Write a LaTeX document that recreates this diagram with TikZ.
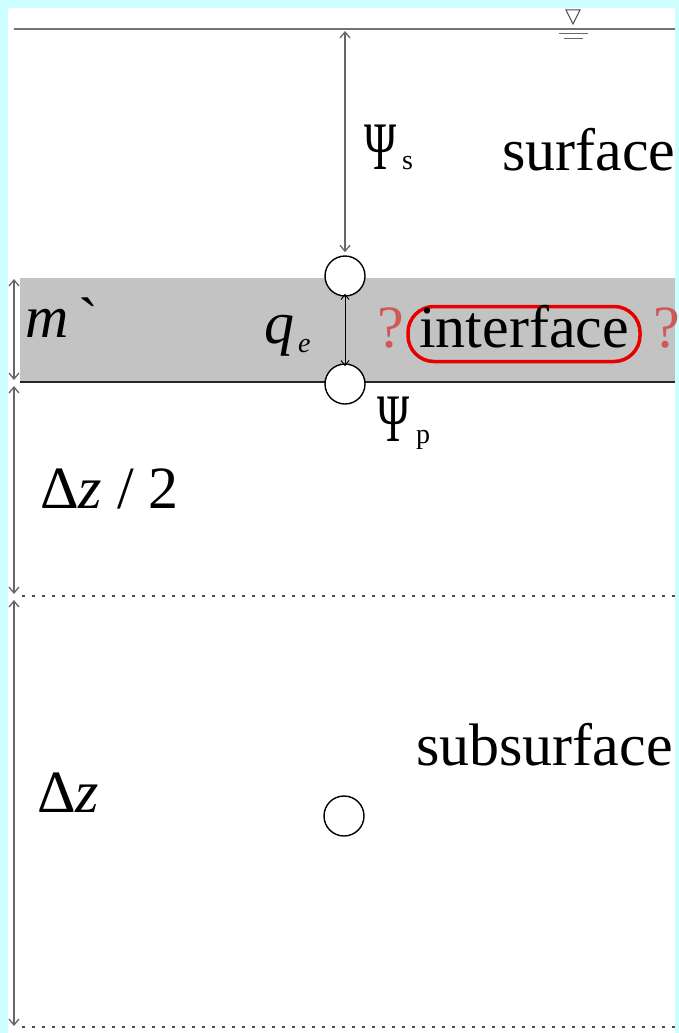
\documentclass[tikz,border=0pt]{standalone}
\usepackage{fontspec}
\setmainfont{Liberation Serif}
\usetikzlibrary{arrows.meta}
\definecolor{bgcyan}{HTML}{CCFFFF}
\definecolor{bandgray}{HTML}{C3C3C3}
\definecolor{qred}{HTML}{D05858}
\definecolor{ovalred}{HTML}{E80000}
\begin{document}
\begin{tikzpicture}[x=1pt,y=-1pt,
  big/.style={font=\fontsize{60}{66}\selectfont, inner sep=0pt},
  psi/.style={font=\fontsize{68}{70}\selectfont, inner sep=0pt},
  small/.style={font=\fontsize{28}{30}\selectfont, inner sep=0pt},
  dimarrow/.style={draw=gray!80!black, line width=1.3pt, {Straight Barb[length=6pt,width=10pt]}-{Straight Barb[length=6pt,width=10pt]}},
  qarrow/.style={draw=black, line width=1pt, {Straight Barb[length=5pt,width=8pt]}-{Straight Barb[length=5pt,width=8pt]}},
  nodecircle/.style={circle, draw=black, line width=1.4pt, fill=white, minimum size=40pt, inner sep=0pt},
  dotline/.style={draw=black!70, line width=2pt, dash pattern=on 3pt off 7pt},
  qmark/.style={big, text=qred}]
\useasboundingbox (0,0) rectangle (679,1033);
\fill[bgcyan] (0,0) rectangle (679,1033);
\fill[white] (8,8) rectangle (675,1033);
% gray band
\fill[bandgray] (20,278) rectangle (675,382);
% top water line
\draw[gray!90!black, line width=1.8pt] (14,29) -- (675,29);
% water table symbol
\draw[black!70, line width=1pt] (566,10) -- (580,10) -- (573,24) -- cycle;
\draw[black!60, line width=1pt] (559,34) -- (588,34);
\draw[black!60, line width=1pt] (564,39) -- (583,39);
% band bottom line
\draw[black!85, line width=1.8pt] (20,382) -- (675,382);
% dotted lines
\draw[dotline] (22,596) -- (675,596);
\draw[dotline] (22,1027) -- (675,1027);
% circles
\node[nodecircle] (c1) at (345,276) {};
\node[nodecircle] (c2) at (345,384) {};
\node[nodecircle] (c3) at (344,816) {};
% coordinates
\coordinate (ptop) at (345,31);
\coordinate (m1) at (14,279);
\coordinate (m2) at (14,380);
\coordinate (h1) at (14,386);
\coordinate (h2) at (14,594);
\coordinate (z1) at (14,600);
\coordinate (z2) at (14,1026);
% arrows
\draw[dimarrow] (ptop) -- ([yshift=3pt]c1.north);
\draw[qarrow] ([yshift=3pt]c1.south) -- ([yshift=-3pt]c2.north);
\draw[dimarrow] (m1) -- (m2);
\draw[dimarrow] (h1) -- (h2);
\draw[dimarrow] (z1) -- (z2);
% labels
\node[big, anchor=base west] (surf) at (502,170) {surface};
\node[big, anchor=base west] (subsurf) at (416,765) {subsurface};
\node[psi, anchor=base west] (psis) at (364,169) {\scalebox{0.64}[1]{Ψ}};
\node[small, anchor=base west] (psiss) at (402,169) {s};
\node[psi, anchor=base west] (psip) at (377,441) {\scalebox{0.64}[1]{Ψ}};
\node[small, anchor=base west] (psipp) at (416,443) {p};
\node[big, anchor=base west] (mlab) at (25,337) {\textit{m}\,\raisebox{-2pt}{\textasciigrave}};
\node[big, anchor=base west] (qlab) at (264,343) {\textit{q}};
\node[small, anchor=base west] (qsub) at (298,352) {\textit{e}};
\node[big, anchor=base west] (dz2) at (40,508) {Δ\textit{z} / 2};
\node[big, anchor=base west] (dz) at (37,812) {Δ\textit{z}};
\node[big, draw=ovalred, line width=3.5pt, rounded corners=26pt, minimum width=232pt, minimum height=52pt, text height=41pt, text depth=14pt] (iface) at (524,334) {interface};
\node[qmark, anchor=base west] (q1) at (377,347) {?};
\node[qmark, anchor=base west] (q2) at (653,347) {?};
\end{tikzpicture}
\end{document}
